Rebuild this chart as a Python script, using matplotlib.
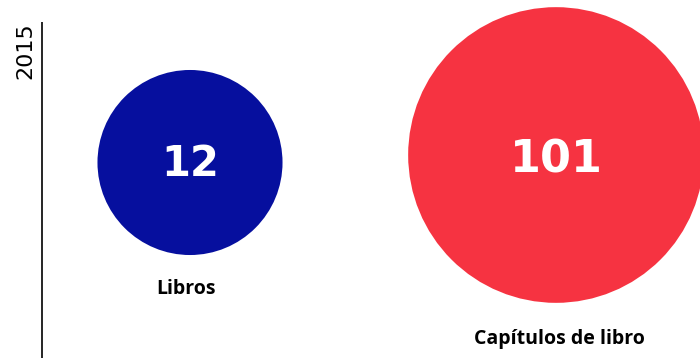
import matplotlib
matplotlib.use("Agg")
import matplotlib.pyplot as plt
from matplotlib.patches import Circle

year = "2015"
categories = ["Libros", "Capítulos de libro"]
values = [12, 101]
colors = ["#060F9E", "#F63341"]

W, H = 700, 358
fig = plt.figure(figsize=(W / 100, H / 100), dpi=100)
ax = fig.add_axes([0, 0, 1, 1])
ax.set_xlim(0, W)
ax.set_ylim(H, 0)
ax.set_aspect("equal")
ax.axis("off")

# layout (pixel-like data units)
centers_x = [190, 556]
centers_y = [162.5, 155]
num_sizes = [30, 32]
num_dy = [2, 5]
label_dx = [-3.5, 3]
label_dy = [34, 36]


def radius(v):
    return 53.56 * v ** 0.22


for i, (cat, v, c) in enumerate(zip(categories, values, colors)):
    r = radius(v)
    cx, cy = centers_x[i], centers_y[i]
    ax.add_patch(Circle((cx, cy), r, facecolor=c, edgecolor="none", clip_on=False))
    ax.text(cx, cy + num_dy[i], str(v), color="white", fontsize=num_sizes[i], fontweight="bold",
            family="DejaVu Sans", ha="center", va="center")
    ax.text(cx + label_dx[i], cy + r + label_dy[i], cat, color="black", fontsize=14,
            fontweight="bold", family="Open Sans", ha="center", va="center")

ax.plot([42, 42], [22, H], color="black", lw=1.2, solid_capstyle="butt", clip_on=False)
ax.text(25, 51, year, rotation=90, fontsize=16, family="DejaVu Sans", color="black",
        ha="center", va="center")

fig.savefig("out.png", dpi=100)
